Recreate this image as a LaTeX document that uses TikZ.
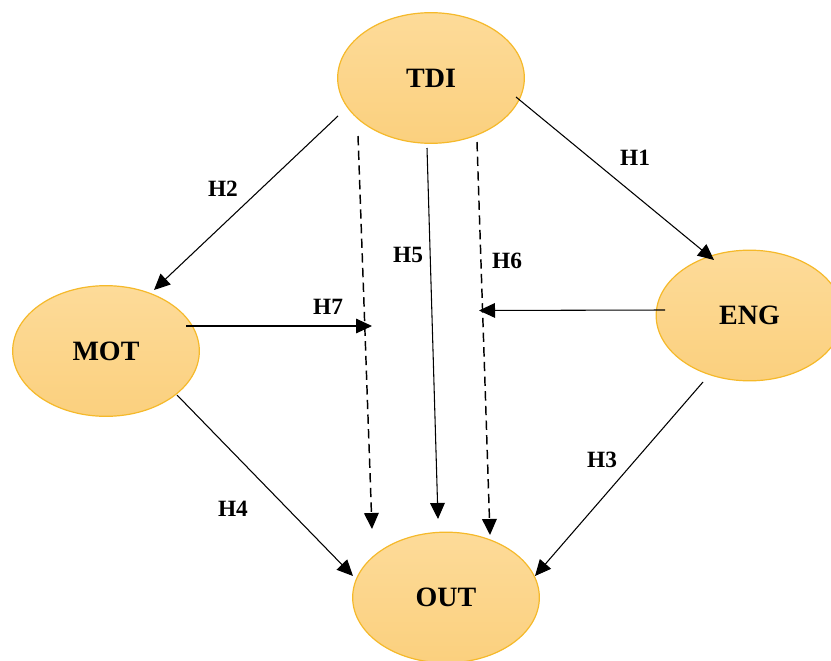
\documentclass[tikz,border=0pt]{standalone}
\usepackage{fontspec}
\setmainfont{Liberation Serif}
\usetikzlibrary{arrows.meta,calc,shapes.geometric}
\definecolor{ovaltop}{HTML}{FDDB99}
\definecolor{ovalbot}{HTML}{FBD07E}
\definecolor{ovaldraw}{HTML}{F5B92A}

\tikzset{
  oval/.style={shape=ellipse, draw=ovaldraw, line width=0.9pt, top color=ovaltop, bottom color=ovalbot,
    minimum width=140pt, minimum height=98pt, inner sep=0pt, font=\fontsize{21}{24}\selectfont\bfseries},
  hyp/.style={font=\fontsize{17.5}{20}\selectfont\bfseries},
  rel/.style={-{Triangle[length=12pt,width=11pt]}, line width=0.8pt, draw=black},
  relmed/.style={rel, line width=1.1pt, dash pattern=on 7pt off 4pt}
}

\begin{document}
\begin{tikzpicture}[x=0.75pt, y=-0.75pt]
\useasboundingbox (0,0) rectangle (831,660);
\node[oval] (TDI) at (431,78) {TDI};
\node[oval] (MOT) at (106,351) {MOT};
\node[oval] (ENG) at (749.5,315.5) {ENG};
\node[oval] (OUT) at (446,597.5) {OUT};
\coordinate (H7end) at (372,326);
\coordinate (H6end) at (479,310.5);
\node[hyp] (h1) at (635,158) {H1};
\node[hyp] (h2) at (223,189) {H2};
\node[hyp] (h3) at (602,460) {H3};
\node[hyp] (h4) at (233,509) {H4};
\node[hyp] (h5) at (408,255) {H5};
\node[hyp] (h6) at (507,261) {H6};
\node[hyp] (h7) at (328,307) {H7};
\draw[rel] ($(TDI)+(85,19)$) -- ($(ENG)+(-35.5,-55.5)$);
\draw[rel] ($(TDI)+(-93,38)$) -- ($(MOT)+(48,-61)$);
\draw[rel] ($(TDI)+(-4,70)$) -- ($(OUT)+(-8,-78.5)$);
\draw[relmed] ($(TDI)+(-73,58)$) -- ($(OUT)+(-74,-68.5)$);
\draw[relmed] ($(TDI)+(46,64)$) -- ($(OUT)+(44,-62.5)$);
\draw[rel] ($(MOT)+(80,-25)$) -- (H7end);
\draw[rel] ($(ENG)+(-84.5,-5.5)$) -- (H6end);
\draw[rel] ($(MOT)+(71,44)$) -- ($(OUT)+(-93,-21.5)$);
\draw[rel] ($(ENG)+(-46.5,66.5)$) -- ($(OUT)+(89,-21.5)$);
\end{tikzpicture}
\end{document}
